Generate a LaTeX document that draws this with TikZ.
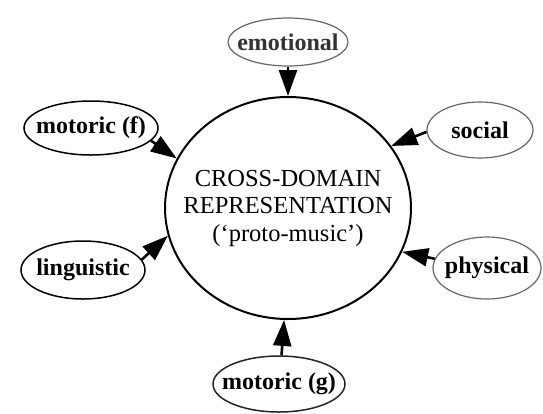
\documentclass[tikz,border=0pt]{standalone}
\usepackage{fontspec}
\setmainfont{Liberation Serif}
\usetikzlibrary{shapes.geometric,arrows.meta}
\begin{document}
\begin{tikzpicture}[x=1pt,y=-1pt,
  dom/.style={ellipse,draw=black,line width=1.5pt,inner sep=0pt,
    label={[font=\fontsize{24}{28}\selectfont\bfseries]center:#1}},
  domgray/.style={dom={#1},draw=black!60,line width=1.2pt},
  core/.style={ellipse,draw=black,line width=2pt,inner sep=0pt,
    minimum width=246pt,minimum height=222pt},
  coretext/.style={align=center,inner sep=0pt,
    font=\fontsize{24.5}{27.5}\selectfont},
  feed/.style={line width=2.6pt,-{Triangle[length=26pt,width=18pt]}}]
\useasboundingbox (0,0) rectangle (543,413);
\fill[white] (0,0) rectangle (543,413);
\node[core] (c) at (288,208) {};
\node[coretext] (ct) at (c.center) {CROSS-DOMAIN\\REPRESENTATION\\(‘proto-music’)};
\node[domgray={\textcolor{black!80}{emotional}},minimum width=120pt,minimum height=48pt] (emo) at (288,42) {};
\node[dom={motoric (f)},minimum width=134pt,minimum height=54pt] (mf) at (91,128) {};
\node[domgray={social},minimum width=106pt,minimum height=56pt] (soc) at (480,130) {};
\node[dom={linguistic},minimum width=124pt,minimum height=58pt] (ling) at (83,270) {};
\node[domgray={physical},minimum width=108pt,minimum height=62pt] (phys) at (487,268) {};
\node[dom={motoric (g)},draw=black!85,minimum width=132pt,minimum height=56pt] (mg) at (279,384) {};
\draw[feed] (emo.south) -- (c.north);
\draw[feed] (mf.-12) -- (c.156);
\draw[feed] (ling.10) -- (c.193);
\draw[feed] (soc.182) -- (c.31);
\draw[feed] (phys.170) -- (c.-21);
\draw[feed] (mg.85) -- (c.-92);
\end{tikzpicture}
\end{document}
